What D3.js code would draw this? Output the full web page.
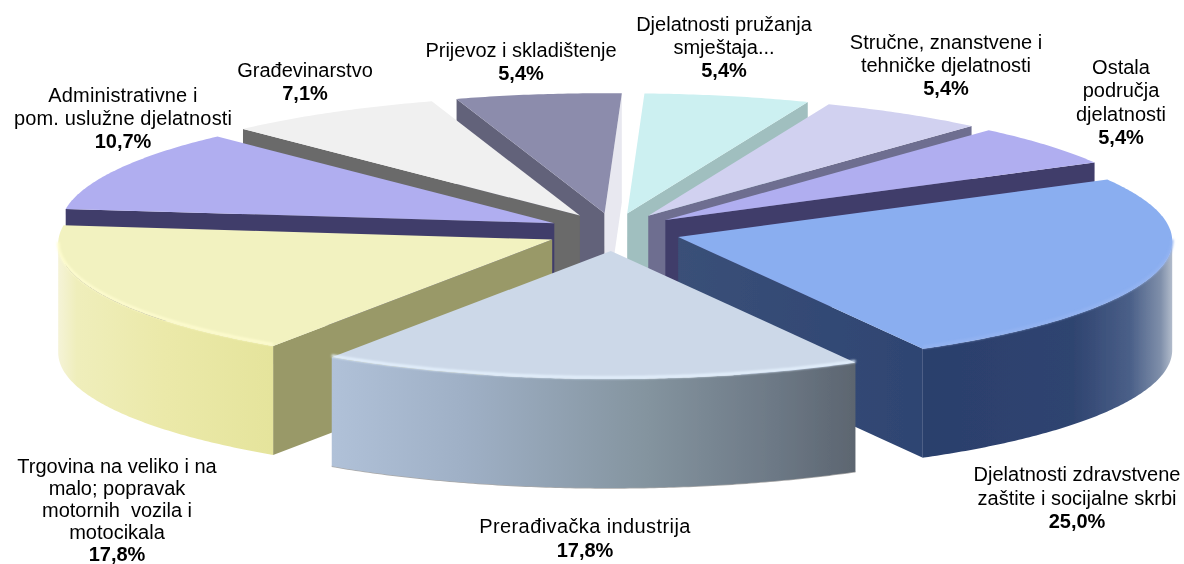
<!DOCTYPE html>
<html>
	<head>
		<meta charset="utf-8">
		<title>Djelatnosti</title>
		<script src="https://cdnjs.cloudflare.com/ajax/libs/d3/7.8.5/d3.min.js"></script>
		<style>
			html, body { margin: 0; padding: 0; background: #fff; }
			text { font-family: "Liberation Sans", Arial, sans-serif; font-size: 20px; fill: #000; }
		</style>
	</head>
	<body>
		<div id="viz"></div>
		<script>
			// clockwise from the top
			var categories = [
				['Djelatnosti pružanja', 'smještaja...'],
				['Stručne, znanstvene i', 'tehničke djelatnosti'],
				['Ostala', 'područja', 'djelatnosti'],
				['Djelatnosti zdravstvene', 'zaštite i socijalne skrbi'],
				['Prerađivačka industrija'],
				['Trgovina na veliko i na', 'malo; popravak', 'motornih  vozila i', 'motocikala'],
				['Administrativne i', 'pom. uslužne djelatnosti'],
				['Građevinarstvo'],
				['Prijevoz i skladištenje']
			];
			var values = [5.4, 5.4, 5.4, 25.0, 17.8, 17.8, 10.7, 7.1, 5.4];
			var valueLabels = ['5,4%', '5,4%', '5,4%', '25,0%', '17,8%', '17,8%', '10,7%', '7,1%', '5,4%'];

			var topColors = ['#ccf0f1', '#d1d1f0', '#b0aef0', '#8aaef0', '#ccd8e8', '#f2f2c0', '#b0aef0', '#f0f0f0', '#8c8cac'];
			var startFaceColors = ['#a0bfbf', '#6e6e90', '#403c6a', '#36507c', '#8c9cb0', '#999968', '#403c6a', '#6a6a6a', '#62627a'];
			var endFaceColors = ['#a0bfbf', '#6e6e90', '#403c6a', '#2f4674', '#8c9cb0', '#999968', '#403c6a', '#6a6a6a', '#e8e8f0'];

			// label layout: centre x, first baseline, line step, letter spacing
			var labelX = [724, 946, 1121, 1077, 585, 117, 123, 305, 521];
			var labelY = [30.5, 49, 74, 481, 533, 472.5, 101.5, 77, 57];
			var labelStep = [23.4, 23.2, 23.4, 23.6, 24, 22, 23.3, 23, 23];
			var labelSpacing = [0, 0, 0, 0, 0.4, 0, 0.15, 0, 0];

			var width = 1184, height = 564;
			var cx = 613.6, cy = 232, rx = 494, ry = 124, depth = 109;
			var rimShift = 4;
			var explodeX = 0.1356, explodeY = 0.153;
			var startAngle = 2 * Math.PI / 180;

			var x = d3.scaleLinear().domain([-1, 1]).range([cx - rx, cx + rx]);
			var y = d3.scaleLinear().domain([-1, 1]).range([cy - ry, cy + ry]);

			var arcs = d3.pie()
				.sort(null)
				.startAngle(startAngle)
				.endAngle(startAngle + 2 * Math.PI)
				.value(d => d)(values);

			var svg = d3.select('#viz')
				.append('svg')
				.attr('width', width)
				.attr('height', height)
				.style('display', 'block');

			var defs = svg.append('defs');
			defs.append('filter').attr('id', 'soft').attr('x', '-5%').attr('y', '-5%').attr('width', '110%').attr('height', '110%')
				.append('feGaussianBlur').attr('stdDeviation', 0.55);
			defs.append('filter').attr('id', 'glow').attr('x', '-5%').attr('y', '-20%').attr('width', '110%').attr('height', '140%')
				.append('feGaussianBlur').attr('stdDeviation', 1.3);
			defs.append('filter').attr('id', 'textsoft').attr('x', '-2%').attr('y', '-2%').attr('width', '104%').attr('height', '104%')
				.append('feGaussianBlur').attr('stdDeviation', 0.3);

			function gradient(id, x1, x2, stops) {
				var g = defs.append('linearGradient').attr('id', id)
					.attr('gradientUnits', 'userSpaceOnUse')
					.attr('x1', x1).attr('x2', x2).attr('y1', 0).attr('y2', 0);
				stops.forEach(s => g.append('stop').attr('offset', s[0]).attr('stop-color', s[1]));
			}
			gradient('side3', 920, 1176, [[0, '#2b3f6c'], [0.6, '#2f4470'], [0.82, '#4a5f88'], [0.94, '#7f8faa'], [1, '#c2cad6']]);
			gradient('side4', 332, 856, [[0, '#b0c1d8'], [0.25, '#9fb0c6'], [0.6, '#84949f'], [0.85, '#6c7885'], [1, '#5c6570']]);
			gradient('side5', 55, 272, [[0, '#f6f4dc'], [0.1, '#efeebb'], [0.5, '#ebe9a9'], [1, '#e5e49c']]);
			gradient('face3', 678, 925, [[0, '#3a5078'], [1, '#2e4472']]);

			var sideFill = { 3: 'url(#side3)', 4: 'url(#side4)', 5: 'url(#side5)' };
			var rimColor = { 3: '#94b4f2', 4: '#e6f3ff', 5: '#fffdd0' };

			var line = d3.line().x(d => d[0]).y(d => d[1]);
			var step = 0.01;

			// tip of an exploded slice
			function tip(d) {
				var m = (d.startAngle + d.endAngle) / 2;
				return [x(explodeX * Math.sin(m)), y(-explodeY * Math.cos(m))];
			}
			function rimPoint(d, a, drop) {
				var t = tip(d);
				return [t[0] + x(Math.sin(a)) - cx, t[1] + y(-Math.cos(a)) - cy + rimShift + (drop || 0)];
			}
			function rim(d, a0, a1, drop) {
				return d3.range(a0, a1, step).concat([a1]).map(a => rimPoint(d, a, drop));
			}
			function radialFace(d, a) {
				var t = tip(d), p = rimPoint(d, a);
				return [t, p, [p[0], p[1] + depth], [t[0], t[1] + depth]];
			}

			var chart = svg.append('g').attr('filter', 'url(#soft)');

			// back slices first
			var order = arcs.slice().sort((p, q) =>
				Math.cos((q.startAngle + q.endAngle) / 2) - Math.cos((p.startAngle + p.endAngle) / 2));

			order.forEach(d => {
				var g = chart.append('g');
				var i = d.index;
				// radial faces that look towards the viewer
				if (Math.sin(d.startAngle) < 0) {
					g.append('path').attr('d', line(radialFace(d, d.startAngle)) + 'Z').attr('fill', startFaceColors[i]);
				}
				if (Math.sin(d.endAngle) > 0) {
					g.append('path').attr('d', line(radialFace(d, d.endAngle)) + 'Z')
						.attr('fill', i == 3 ? 'url(#face3)' : endFaceColors[i]);
				}
				// outer wall, front half of the disc only
				var a0 = Math.max(d.startAngle, Math.PI / 2), a1 = Math.min(d.endAngle, 3 * Math.PI / 2);
				if (a0 < a1) {
					var wall = rim(d, a0, a1).concat(rim(d, a0, a1, depth).reverse());
					if (i == 4) {
						g.append('path').attr('d', line(rim(d, a0, a1, depth)))
							.attr('fill', 'none').attr('stroke', '#a8a8a8').attr('stroke-width', 1.5);
					}
					g.append('path').attr('d', line(wall) + 'Z').attr('fill', sideFill[i]);
				}
				// top
				var t = tip(d);
				var top = [t].concat(rim(d, d.startAngle, d.endAngle));
				g.append('path').attr('d', line(top) + 'Z').attr('fill', topColors[i]);
				if (a0 < a1) {
					g.append('path').attr('d', line(rim(d, a0, a1, -1.5)))
						.attr('fill', 'none').attr('stroke', rimColor[i]).attr('stroke-width', 2.5)
						.attr('filter', 'url(#glow)');
				}
			});

			// labels
			var labels = svg.append('g').attr('text-anchor', 'middle').attr('filter', 'url(#textsoft)');
			categories.forEach((lines, i) => {
				lines.forEach((s, j) => {
					labels.append('text')
						.attr('x', labelX[i])
						.attr('y', labelY[i] + j * labelStep[i])
						.style('white-space', 'pre')
						.style('letter-spacing', labelSpacing[i] + 'px')
						.text(s);
				});
				labels.append('text')
					.attr('x', labelX[i])
					.attr('y', labelY[i] + lines.length * labelStep[i])
					.style('font-weight', 'bold')
					.text(valueLabels[i]);
			});
		</script>
	</body>
</html>
